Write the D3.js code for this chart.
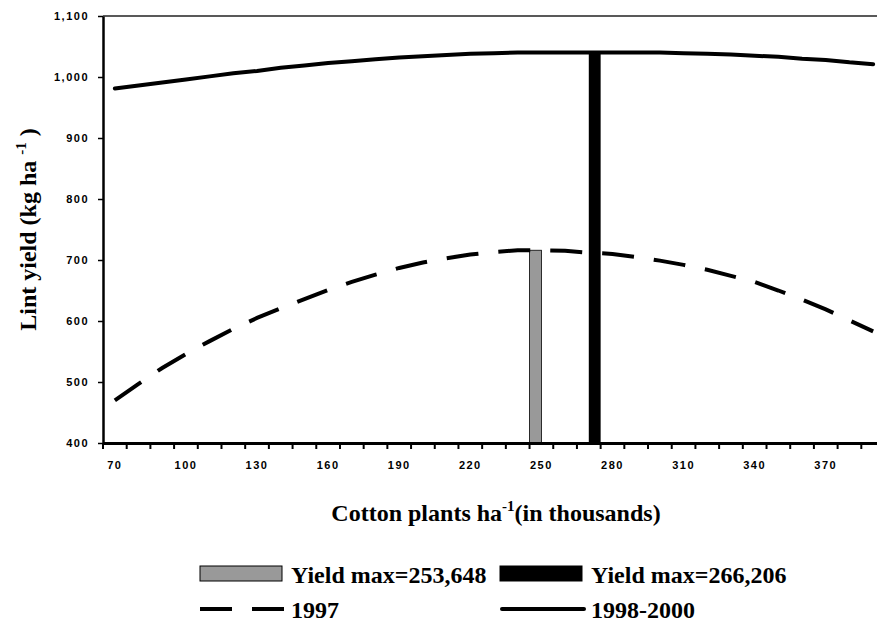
<!DOCTYPE html>
<html>
<head>
<meta charset="utf-8">
<script src="https://cdn.jsdelivr.net/npm/d3@7"></script>
<style>
  body { margin:0; background:#fff; }
  svg { display:block; }
</style>
</head>
<body>
<svg></svg>
<script>
// plant density categories (thousands per ha)
var categories = [70, 80, 90, 100, 110, 120, 130, 140, 150, 160, 170, 180, 190, 200, 210, 220, 230,
                  240, 250, 260, 270, 280, 290, 300, 310, 320, 330, 340, 350, 360, 370, 380, 390];

var yield1997 = [470, 497, 523, 546, 567, 587, 605, 621, 636, 651, 664, 676, 687, 696, 703, 709, 713,
                 716, 716, 715, 712, 710, 705, 699, 692, 684, 674, 664, 650, 635, 619, 601, 583];

var yield9800 = [981, 986, 991, 996, 1001, 1006, 1010, 1015, 1019, 1023, 1026, 1029, 1032, 1034, 1036, 1038, 1039,
                 1040, 1040, 1040, 1040, 1040, 1040, 1040, 1039, 1038, 1037, 1035, 1033, 1030, 1028, 1024, 1021];

// the two "yield max" columns: category and value
var maxCats = [250, 270];
var maxValues = [716, 1040];
var maxNames = ["Yield max=253,648", "Yield max=266,206"];

var lineNames = ["1997", "1998-2000"];

var xTickLabels = [70, 100, 130, 160, 190, 220, 250, 280, 310, 340, 370];
var yTicks = [400, 500, 600, 700, 800, 900, 1000, 1100];

var drawGraph = function(){
  var screen = {width:877, height:625};
  var margins = {top:16, left:103};
  var width = 782;
  var height = 427;

  var svg = d3.select("svg")
              .attr("width", screen.width)
              .attr("height", screen.height);

  var xScale = d3.scaleBand()
                 .domain(categories)
                 .range([0, width])
                 .padding(0);
  var slot = d3.scaleBand()
               .domain([0, 1])
               .range([0, xScale.bandwidth()]);
  var yScale = d3.scaleLinear()
                 .domain([400, 1100])
                 .range([height, 0]);

  var plot = svg.append("g")
                .attr("transform", "translate(" + margins.left + "," + margins.top + ")");

  // plot area border (top)
  plot.append("line")
      .attr("x1", 0).attr("x2", width)
      .attr("y1", 0).attr("y2", 0)
      .attr("stroke", "#222")
      .attr("stroke-width", 1.3);

  // bars
  var colors = ["#999999", "#000000"];
  plot.selectAll("rect.bar")
      .data(maxCats)
      .enter()
      .append("rect")
      .classed("bar", true)
      .attr("x", function(d, i){ return xScale(d) + slot(i); })
      .attr("width", slot.bandwidth())
      .attr("y", function(d, i){ return yScale(maxValues[i]); })
      .attr("height", function(d, i){ return height - yScale(maxValues[i]); })
      .attr("fill", function(d, i){ return colors[i]; })
      .attr("stroke", "#000")
      .attr("stroke-width", function(d, i){ return i == 0 ? 0.8 : 0; });

  var line = d3.line()
               .x(function(d, i){ return xScale(categories[i]) + xScale.bandwidth() / 2; })
               .y(function(d){ return yScale(d); });

  plot.append("path")
      .attr("d", line(yield1997))
      .attr("fill", "none")
      .attr("stroke", "#000")
      .attr("stroke-width", 4)
      .attr("stroke-dasharray", "32,20");

  plot.append("path")
      .attr("d", line(yield9800))
      .attr("fill", "none")
      .attr("stroke", "#000")
      .attr("stroke-width", 4)
      .attr("stroke-linecap", "round");

  // y axis
  var yAxis = plot.append("g")
                  .call(d3.axisLeft(yScale)
                          .tickValues(yTicks)
                          .tickSize(5)
                          .tickSizeOuter(0)
                          .tickPadding(9)
                          .tickFormat(d3.format(",")));
  yAxis.select(".domain").attr("stroke-width", 2.5);
  yAxis.selectAll(".tick line").attr("stroke-width", 1.5);
  yAxis.selectAll("text")
       .attr("font-family", "Liberation Sans, Arial, sans-serif")
       .attr("font-weight", "bold")
       .attr("font-size", 11)
       .style("letter-spacing", "1.5px");

  // x axis: ticks on category edges, labels on every third category
  var xAxis = plot.append("g")
                  .attr("transform", "translate(0," + height + ")")
                  .call(d3.axisBottom(xScale)
                          .tickValues(xTickLabels)
                          .tickSize(0)
                          .tickSizeOuter(0)
                          .tickPadding(18));
  xAxis.select(".domain").attr("stroke-width", 3);
  xAxis.selectAll("text")
       .attr("font-family", "Liberation Sans, Arial, sans-serif")
       .attr("font-weight", "bold")
       .attr("font-size", 11)
       .style("letter-spacing", "1.5px");
  xAxis.selectAll("line.edge")
       .data(categories)
       .enter()
       .append("line")
       .classed("edge", true)
       .attr("x1", function(d){ return xScale(d); })
       .attr("x2", function(d){ return xScale(d); })
       .attr("y1", 0).attr("y2", 6)
       .attr("stroke", "#000")
       .attr("stroke-width", 2);

  var serif = "Liberation Serif, Times New Roman, serif";

  // axis titles
  var xt = svg.append("text")
              .attr("x", 496).attr("y", 521)
              .attr("text-anchor", "middle")
              .attr("font-family", serif)
              .attr("font-weight", "bold")
              .attr("font-size", 24);
  xt.append("tspan").text("Cotton plants ha");
  xt.append("tspan").attr("dy", -10).attr("font-size", 15).text("-1");
  xt.append("tspan").attr("dy", 10).text("(in thousands)");

  var yt = svg.append("text")
              .attr("transform", "translate(36," + (margins.top + height / 2) + ") rotate(-90)")
              .attr("text-anchor", "middle")
              .attr("font-family", serif)
              .attr("font-weight", "bold")
              .attr("font-size", 24);
  yt.append("tspan").text("Lint yield (kg ha ");
  yt.append("tspan").attr("dy", -10).attr("font-size", 15).text("-1");
  yt.append("tspan").attr("dy", 10).text(" )");

  // legend
  var legend = svg.append("g").classed("legend", true);
  var cols = [200, 500];

  legend.selectAll("rect")
        .data(maxNames)
        .enter()
        .append("rect")
        .attr("x", function(d, i){ return cols[i]; })
        .attr("y", 566)
        .attr("width", 82)
        .attr("height", 15)
        .attr("fill", function(d, i){ return colors[i]; })
        .attr("stroke", "#000")
        .attr("stroke-width", 1);

  legend.selectAll("text.bar")
        .data(maxNames)
        .enter()
        .append("text")
        .attr("x", function(d, i){ return cols[i] + 91; })
        .attr("y", 583)
        .attr("font-family", serif)
        .attr("font-weight", "bold")
        .attr("font-size", 24)
        .text(function(d){ return d; });

  legend.append("line")
        .attr("x1", cols[0]).attr("x2", cols[0] + 84)
        .attr("y1", 609).attr("y2", 609)
        .attr("stroke", "#000")
        .attr("stroke-width", 4)
        .attr("stroke-dasharray", "32,20");
  legend.append("line")
        .attr("x1", cols[1] + 2).attr("x2", cols[1] + 84)
        .attr("y1", 609).attr("y2", 609)
        .attr("stroke", "#000")
        .attr("stroke-width", 4)
        .attr("stroke-linecap", "round");

  legend.selectAll("text.ln")
        .data(lineNames)
        .enter()
        .append("text")
        .attr("x", function(d, i){ return cols[i] + 91; })
        .attr("y", 618)
        .attr("font-family", serif)
        .attr("font-weight", "bold")
        .attr("font-size", 24)
        .text(function(d){ return d; });
}

drawGraph();
</script>
</body>
</html>
